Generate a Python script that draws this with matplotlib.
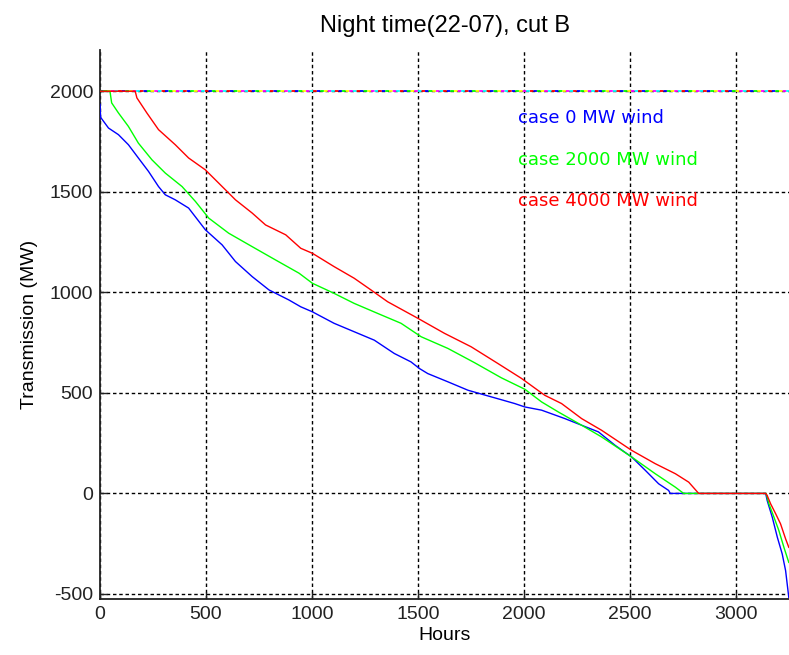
import matplotlib
matplotlib.use("Agg")
import matplotlib.pyplot as plt
import numpy as np

plt.rcParams["axes.unicode_minus"] = False

# duration curves
hours_0 = [0, 3, 40, 87, 134, 181, 229, 276, 308, 355, 418, 497, 576, 639, 718,
           797, 891, 947, 1002, 1104, 1199, 1294, 1388, 1467, 1507, 1546, 1641,
           1736, 1846, 1893, 1956, 2004, 2083, 2193, 2272, 2351, 2430, 2508, 2572,
           2635, 2682, 2690, 3140, 3147, 3171, 3195, 3218, 3234, 3249]
trans_0 = [1935, 1870, 1817, 1784, 1734, 1668, 1601, 1526, 1485, 1460, 1419, 1311,
           1236, 1153, 1078, 1012, 962, 928, 903, 846, 804, 762, 696, 654, 621, 596,
           555, 513, 480, 466, 447, 430, 414, 372, 339, 306, 239, 181, 115, 48, 15,
           0, 0, -35, -118, -218, -301, -384, -517]

hours_2000 = [0, 47, 55, 87, 134, 181, 245, 308, 387, 450, 513, 607, 718, 828, 939,
              1002, 1104, 1199, 1310, 1420, 1515, 1641, 1767, 1893, 2004, 2083, 2162,
              2272, 2366, 2508, 2619, 2714, 2753, 3142, 3155, 3179, 3202, 3226, 3249]
trans_2000 = [2000, 2000, 1942, 1892, 1825, 1742, 1659, 1593, 1526, 1452, 1369, 1294,
              1227, 1161, 1095, 1045, 995, 945, 895, 846, 779, 721, 650, 575, 518, 455,
              405, 339, 281, 181, 98, 31, 0, 0, -51, -118, -184, -268, -343]

hours_4000 = [0, 166, 174, 221, 276, 355, 418, 497, 560, 639, 718, 781, 876, 947,
              1002, 1104, 1199, 1278, 1357, 1499, 1625, 1751, 1877, 1988, 2098, 2177,
              2272, 2366, 2508, 2619, 2714, 2777, 2824, 3140, 3147, 3163, 3187, 3210,
              3234, 3249]
trans_4000 = [2000, 2000, 1967, 1892, 1809, 1734, 1668, 1609, 1543, 1460, 1394, 1335,
              1286, 1219, 1194, 1128, 1070, 1012, 953, 871, 796, 729, 646, 572, 488,
              447, 372, 314, 214, 148, 98, 56, 0, 0, -10, -51, -101, -151, -226, -268]

cases = ["case 0 MW wind", "case 2000 MW wind", "case 4000 MW wind"]
case_colors = ["#0000ff", "#00ff00", "#ff0000"]
label_y = [1866, 1659, 1456]
label_x = 1972

limit = 2000
limit_colors = ["#0000ff", "#ff0000", "#00ffff", "#ff00ff", "#ffff00", "#00ff00"]

fig = plt.figure(figsize=(7.89, 6.55), dpi=100)
ax = fig.add_axes([100 / 789, 56 / 655, 689 / 789, 549 / 655])

# the 2000 MW limit is drawn by several overlapping coloured dashed lines
n = len(limit_colors)
for i, c in enumerate(limit_colors):
    ax.plot([0, 3250], [limit, limit], color=c, linewidth=1.3,
            linestyle=(i * 2, (2, 2 * (n - 1))), zorder=2)

for hx, ty, c in zip([hours_0, hours_2000, hours_4000],
                     [trans_0, trans_2000, trans_4000], case_colors):
    ax.plot(hx, ty, color=c, linewidth=1.0, zorder=3)

for name, c, yy in zip(cases, case_colors, label_y):
    ax.text(label_x, yy, name, color=c, fontsize=13, va="center", ha="left",
            family="DejaVu Sans")

ax.set_xlim(0, 3250)
ax.set_ylim(-525, 2205)
ax.set_xticks(np.arange(0, 3001, 500))
ax.set_yticks(np.arange(-500, 2001, 500))
ax.grid(True, color="black", linewidth=1.0, linestyle=(0, (2.5, 2)))
ax.set_axisbelow(True)

for side in ["top", "right"]:
    ax.spines[side].set_visible(False)
for side in ["left", "bottom"]:
    ax.spines[side].set_linewidth(1.3)
    ax.spines[side].set_color("#222222")

ax.tick_params(direction="in", length=5, width=1, labelsize=14,
               colors="#222222", labelcolor="#222222", pad=5)
for lab in ax.get_xticklabels() + ax.get_yticklabels():
    lab.set_family("Liberation Sans")

ax.set_xlabel("Hours", fontsize=14, family="Liberation Sans", labelpad=3)
ax.set_ylabel("Transmission (MW)", fontsize=14, family="Liberation Sans", labelpad=8)
ax.set_title("Night time(22-07), cut B", fontsize=17, family="Liberation Sans", pad=13)

fig.savefig("out.png", dpi=100)
